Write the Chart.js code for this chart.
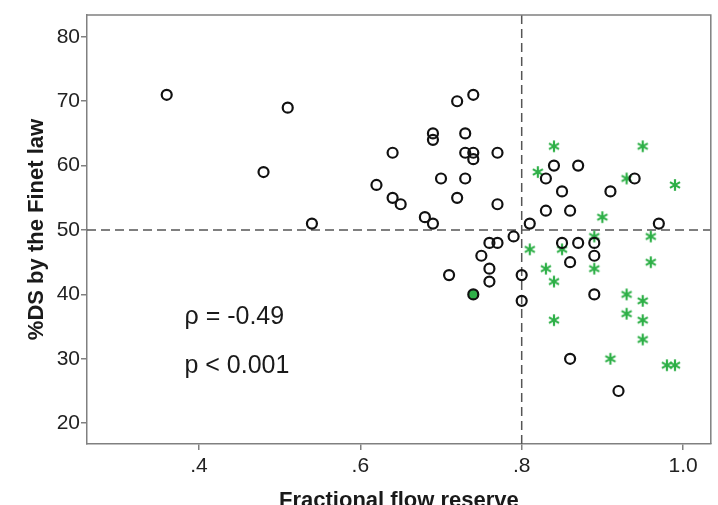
<!DOCTYPE html>
<html>
<head>
<meta charset="utf-8">
<script src="https://cdn.jsdelivr.net/npm/chart.js@4.4.1/dist/chart.umd.min.js"></script>
<style>
html,body{margin:0;padding:0;background:#fff;}
#wrap{width:718px;height:505px;position:relative;}
</style>
</head>
<body>
<div id="wrap"><canvas id="c" width="718" height="505"></canvas></div>
<script>
// ---- data ----
const circleX = [0.36,0.51,0.48,0.54,0.74,0.72,0.69,0.69,0.73,0.64,0.73,0.74,0.74,0.77,0.70,0.73,0.62,0.64,0.65,0.72,0.77,0.68,0.69,0.81,0.79,0.76,0.77,0.75,0.71,0.76,0.76,0.80,0.80,0.84,0.87,0.83,0.94,0.85,0.91,0.83,0.86,0.97,0.85,0.87,0.89,0.89,0.86,0.89,0.86,0.92];
const circleY = [71,69,59,51,71,70,65,64,65,62,62,62,61,62,58,58,57,55,54,55,54,52,51,51,49,48,48,46,43,44,42,43,39,60,60,58,58,56,56,53,53,51,48,48,48,46,45,40,30,25];
const starX = [0.82,0.81,0.84,0.95,0.93,0.99,0.90,0.89,0.96,0.85,0.96,0.83,0.89,0.84,0.93,0.95,0.93,0.84,0.95,0.95,0.91,0.98,0.99];
const starY = [59,47,63,63,58,57,52,49,49,47,45,44,44,42,40,39,37,36,36,33,30,29,29];
const overlapX = [0.74];
const overlapY = [40];
const xTicks = [0.4,0.6,0.8,1.0];
const xTickLabels = ['.4','.6','.8','1.0'];
const yTicks = [20,30,40,50,60,70,80];
const cutX = 0.8;
const cutY = 50;
const statLines = ['\u03C1 = -0.49','p < 0.001'];
const xTitle = 'Fractional flow reserve';
const yTitle = '%DS by the Finet law';

const FONT = '"Liberation Sans", Arial, sans-serif';
const GREEN = '#2fb048';

function pts(xs, ys){ return xs.map((x,i)=>({x:x,y:ys[i]})); }

// asterisk marker
const star = document.createElement('canvas');
star.width = 14; star.height = 14;
(function(){
  const g = star.getContext('2d');
  g.strokeStyle = GREEN; g.lineWidth = 2.2; g.lineCap = 'butt';
  const r = 5.8, cx = 7, cy = 7;
  for (let k=0;k<3;k++){
    const a = Math.PI/2 + k*Math.PI/3;
    g.beginPath();
    g.moveTo(cx + r*Math.cos(a), cy + r*Math.sin(a));
    g.lineTo(cx - r*Math.cos(a), cy - r*Math.sin(a));
    g.stroke();
  }
})();

const overlay = {
  id:'overlay',
  beforeDatasetsDraw(chart){
    const {ctx, chartArea:a, scales:{x,y}} = chart;
    ctx.save();
    ctx.strokeStyle = '#555';
    ctx.lineWidth = 1.5;
    ctx.setLineDash([9,5]);
    const px = x.getPixelForValue(cutX), py = y.getPixelForValue(cutY);
    ctx.beginPath(); ctx.moveTo(px, a.top); ctx.lineTo(px, a.bottom); ctx.stroke();
    ctx.beginPath(); ctx.moveTo(a.left, py); ctx.lineTo(a.right, py); ctx.stroke();
    ctx.setLineDash([]);
    // frame top/right
    ctx.strokeStyle = '#808080';
    ctx.beginPath(); ctx.moveTo(a.left, a.top); ctx.lineTo(a.right, a.top); ctx.lineTo(a.right, a.bottom); ctx.stroke();
    // stats text
    ctx.fillStyle = '#1a1a1a';
    ctx.font = '25px ' + FONT;
    ctx.textAlign = 'left'; ctx.textBaseline = 'alphabetic';
    ctx.fillText(statLines[0], x.getPixelForValue(0.382), y.getPixelForValue(35.4));
    ctx.fillText(statLines[1], x.getPixelForValue(0.382), y.getPixelForValue(27.8));
    // axis titles
    ctx.font = 'bold 22px ' + FONT;
    ctx.textAlign = 'center'; ctx.textBaseline = 'middle';
    ctx.fillText(xTitle, (a.left + a.right)/2, 501);
    ctx.save();
    ctx.translate(37, (a.top + a.bottom)/2);
    ctx.rotate(-Math.PI/2);
    ctx.fillText(yTitle, 0, 0);
    ctx.restore();
    ctx.restore();
  }
};

new Chart(document.getElementById('c'), {
  type:'scatter',
  data:{
    datasets:[
      {label:'overlap', data:pts(overlapX, overlapY), pointStyle:'circle', pointRadius:5, pointHoverRadius:5,
       borderColor:'#111', backgroundColor:GREEN, pointBorderWidth:2.2, order:0},
      {label:'circles', data:pts(circleX, circleY), pointStyle:'circle', pointRadius:5, pointHoverRadius:5,
       borderColor:'#111', backgroundColor:'rgba(0,0,0,0)', pointBorderWidth:2.2, order:1},
      {label:'stars', data:pts(starX, starY), pointStyle:star, pointRadius:6, order:2}
    ]
  },
  options:{
    responsive:false,
    animation:false,
    events:[],
    layout:{padding:{top:15,right:6,left:0,bottom:0}},
    plugins:{legend:{display:false}, tooltip:{enabled:false}},
    scales:{
      x:{
        type:'linear', min:0.2612, max:1.0344,
        afterBuildTicks(s){ s.ticks = xTicks.map(v=>({value:v})); },
        afterFit(s){ s.height = 61; },
        ticks:{ callback:(v)=>{ const i = xTicks.findIndex(t=>Math.abs(t-v)<1e-9); return i>=0 ? xTickLabels[i] : ''; },
          font:{family:FONT, size:21}, color:'#222', padding:4, maxRotation:0, autoSkip:false },
        grid:{ display:true, drawOnChartArea:false, drawTicks:true, tickLength:6, color:'#808080', lineWidth:1.5 },
        border:{ display:true, color:'#808080', width:1.5 }
      },
      y:{
        type:'linear', min:16.77, max:83.39,
        afterBuildTicks(s){ s.ticks = yTicks.map(v=>({value:v})); },
        afterFit(s){ s.width = 87; },
        ticks:{ font:{family:FONT, size:21}, color:'#222', padding:1, autoSkip:false },
        grid:{ display:true, drawOnChartArea:false, drawTicks:true, tickLength:6, color:'#808080', lineWidth:1.5 },
        border:{ display:true, color:'#808080', width:1.5 }
      }
    }
  },
  plugins:[overlay]
});
</script>
</body>
</html>
